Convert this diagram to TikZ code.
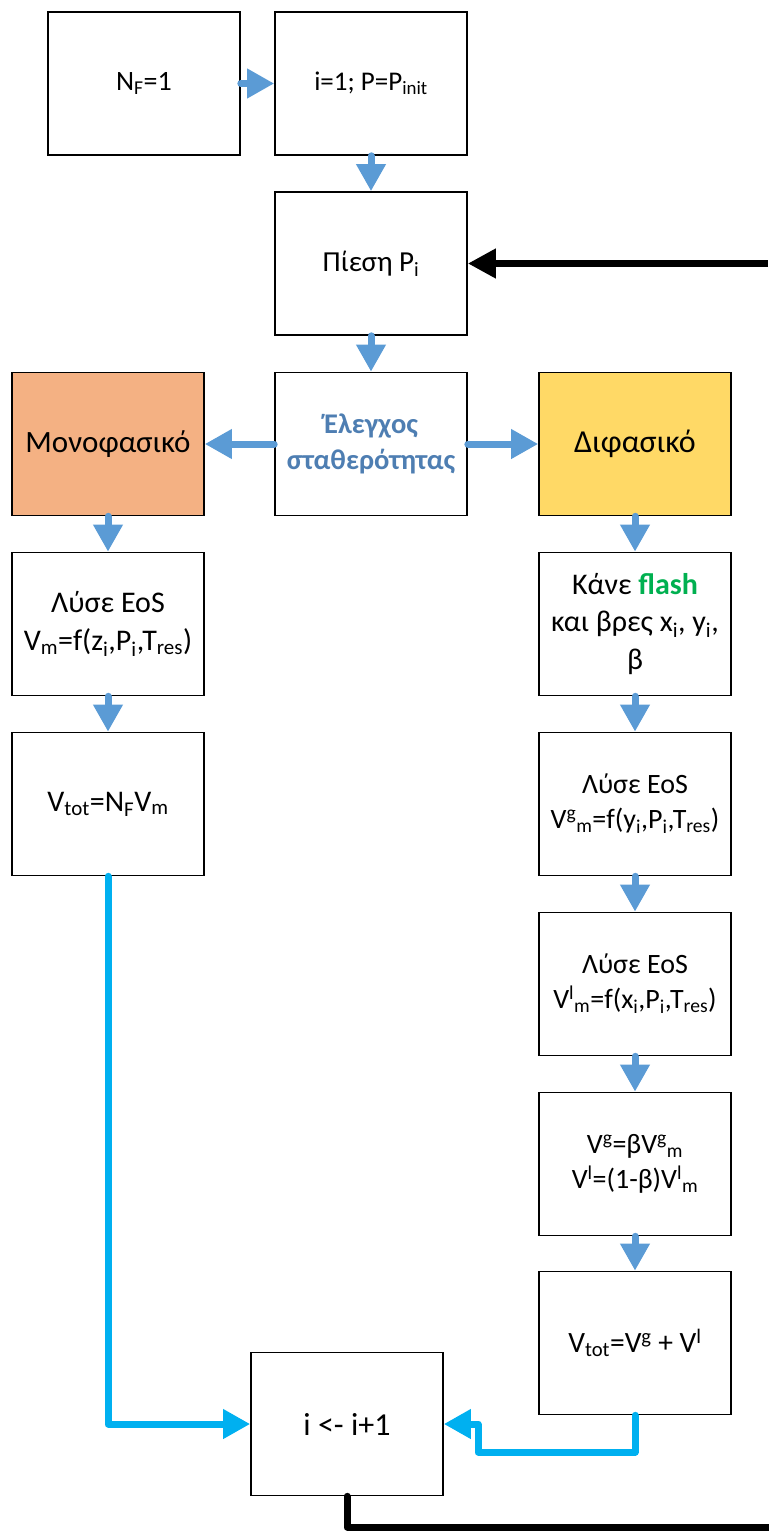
\documentclass[tikz,border=0pt]{standalone}
\usepackage{fontspec}
\setmainfont{Carlito}
\usepackage{tikz}
\usetikzlibrary{arrows.meta,positioning}
\definecolor{arrblue}{HTML}{5B9BD5}
\definecolor{arrcyan}{HTML}{00B0F0}
\definecolor{monofill}{HTML}{F4B183}
\definecolor{difill}{HTML}{FFD966}
\definecolor{flashgreen}{HTML}{00B050}
\definecolor{stabtext}{HTML}{4E7EB2}
\tikzstyle{blk}=[draw,line width=1.6pt,minimum width=192pt,minimum height=143pt,align=center,inner sep=0pt]
\tikzstyle{barrow}=[draw=arrblue,line width=7pt,line cap=round,-{Triangle[length=27pt,width=28pt]}]
\tikzstyle{carrow}=[draw=arrcyan,line width=7pt,line cap=round,line join=round,-{Triangle[length=27pt,width=28pt]}]
\tikzstyle{karrow}=[draw=black,line width=7pt,line cap=round,line join=round]
\newcommand{\fs}[1]{\fontsize{#1}{1.25\dimexpr#1pt\relax}\selectfont}
\begin{document}
\begin{tikzpicture}[x=1pt,y=-1pt]
\useasboundingbox (0,0) rectangle (768,1533);
\node[blk,font=\fs{28}] (nf) at (144,83.5) {N\textsubscript{F}=1};
\node[blk,font=\fs{27}] (init) at (371,83.5) {i=1; P=P\textsubscript{init}};
\node[blk,font=\fs{29}] (pres) at (371,263.5) {Πίεση P\textsubscript{i}};
\node[blk,font=\fs{28.5}\bfseries,text=stabtext] (stab) at (371,444) {Έλεγχος\\σταθερότητας};
\node[blk,fill=monofill,font=\fs{31}] (mono) at (108,444) {Μονοφασικό};
\node[blk,fill=difill,font=\fs{32}] (di) at (635,444) {Διφασικό};
\node[blk,font=\fs{30}] (eosm) at (108,624) {Λύσε EoS\\V\textsubscript{m}=f(z\textsubscript{i},P\textsubscript{i},T\textsubscript{res})};
\node[blk,font=\fs{30}] (vtotm) at (108,804) {V\textsubscript{tot}=N\textsubscript{F}V\textsubscript{m}};
\node[blk,font=\fs{30}] (flash) at (635,624) {Κάνε {\color{flashgreen}\bfseries flash}\\και βρες x\textsubscript{i}, y\textsubscript{i},\\β};
\node[blk,font=\fs{28}] (eosg) at (635,804) {Λύσε EoS\\V\textsuperscript{g}\textsubscript{m}=f(y\textsubscript{i},P\textsubscript{i},T\textsubscript{res})};
\node[blk,font=\fs{28}] (eosl) at (635,984) {Λύσε EoS\\V\textsuperscript{l}\textsubscript{m}=f(x\textsubscript{i},P\textsubscript{i},T\textsubscript{res})};
\node[blk,font=\fs{28}] (vgl) at (635,1164) {V\textsuperscript{g}=βV\textsuperscript{g}\textsubscript{m}\\V\textsuperscript{l}=(1-β)V\textsuperscript{l}\textsubscript{m}};
\node[blk,font=\fs{29.5}] (vtotd) at (635,1343) {V\textsubscript{tot}=V\textsuperscript{g} + V\textsuperscript{l}};
\node[blk,font=\fs{32}] (incr) at (347,1424) {i <- i+1};
\coordinate (rin) at (768,263.5);
\coordinate (rout) at (768,1527);
\coordinate (bend) at (478,1452);
% main flow
\foreach \a/\b in {nf/init,init/pres,pres/stab,stab/mono,stab/di,mono/eosm,eosm/vtotm,di/flash,flash/eosg,eosg/eosl,eosl/vgl,vgl/vtotd}
  \draw[barrow] (\a) -- (\b);
% back to the counter
\draw[carrow] (vtotm.south) |- (incr.west);
\draw[carrow] (vtotd.south) |- (bend) |- (incr.east);
% loop
\draw[karrow,line cap=butt,-{Triangle[length=28pt,width=28pt]}] (rin) -- (pres.east);
\draw[karrow] (incr.south) |- (rout) -- ++(2,0);
\end{tikzpicture}
\end{document}
